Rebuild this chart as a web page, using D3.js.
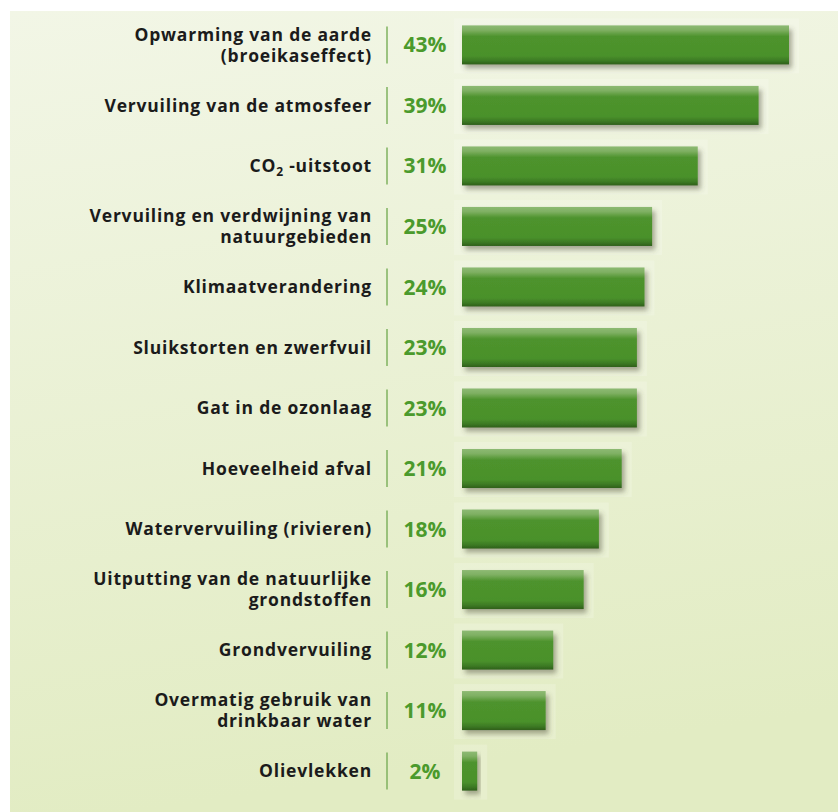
<!DOCTYPE html>
<html>
<head>
<meta charset="utf-8">
<script src="https://cdn.jsdelivr.net/npm/d3@7"></script>
<style>
  body { margin: 0; background: #fff; }
  svg { display: block; }
  .cat { font-family: "Open Sans", sans-serif; font-weight: 700; font-size: 17.5px; letter-spacing: 0.8px; fill: #1b1b1b; }
  .pct { font-family: "Open Sans", sans-serif; font-weight: 700; font-size: 21px; fill: #4b9a2c; }
</style>
</head>
<body>
<div class="chart"></div>
<script>
// labels (line breaks as in the picture) and percentages
const categories = [
  ["Opwarming van de aarde", "(broeikaseffect)"],
  ["Vervuiling van de atmosfeer"],
  ["CO2-uitstoot"],
  ["Vervuiling en verdwijning van", "natuurgebieden"],
  ["Klimaatverandering"],
  ["Sluikstorten en zwerfvuil"],
  ["Gat in de ozonlaag"],
  ["Hoeveelheid afval"],
  ["Watervervuiling (rivieren)"],
  ["Uitputting van de natuurlijke", "grondstoffen"],
  ["Grondvervuiling"],
  ["Overmatig gebruik van", "drinkbaar water"],
  ["Olievlekken"]
];
const values = [43, 39, 31, 25, 24, 23, 23, 21, 18, 16, 12, 11, 2];

const width = 838, height = 812;
const svg = d3.select('div.chart').append('svg')
  .attr('width', width)
  .attr('height', height);

const defs = svg.append('defs');

const bg = defs.append('linearGradient').attr('id', 'bg')
  .attr('x1', 0).attr('y1', 0).attr('x2', 0.15).attr('y2', 1);
bg.append('stop').attr('offset', '0%').attr('stop-color', '#f2f6e6');
bg.append('stop').attr('offset', '100%').attr('stop-color', '#e2ecc3');

const barGrad = defs.append('linearGradient').attr('id', 'bar')
  .attr('x1', 0).attr('y1', 0).attr('x2', 0).attr('y2', 1);
[['0%', '#8dba73'], ['12%', '#7fb063'], ['28%', '#4e932d'], ['78%', '#4a912b'], ['90%', '#3d7b24'], ['100%', '#2e5f1a']]
  .forEach(s => barGrad.append('stop').attr('offset', s[0]).attr('stop-color', s[1]));

const shadow = defs.append('filter').attr('id', 'shadow')
  .attr('x', '-10%').attr('y', '-30%').attr('width', '130%').attr('height', '180%');
shadow.append('feDropShadow')
  .attr('dx', 3).attr('dy', 4).attr('stdDeviation', 2.5)
  .attr('flood-color', '#4a4a30').attr('flood-opacity', 0.45);

svg.append('rect')
  .attr('x', 10).attr('y', 11)
  .attr('width', width - 10).attr('height', height - 11)
  .attr('fill', 'url(#bg)');

const x = d3.scaleLinear().domain([0, 43]).range([0, 327]);
const y = d3.scaleBand()
  .domain(d3.range(values.length))
  .range([14.5, 801.5])
  .paddingInner(0.355)
  .paddingOuter(0.18);

const barX = 462;
const rows = svg.append('g').selectAll('g.row')
  .data(values)
  .enter().append('g')
  .attr('class', 'row')
  .attr('transform', (d, i) => `translate(0,${y(i)})`);

const bh = y.bandwidth();

// faint light box behind each bar
rows.append('rect')
  .attr('x', barX - 8)
  .attr('y', -7)
  .attr('width', d => x(d) + 18)
  .attr('height', bh + 16)
  .attr('fill', '#ffffff')
  .attr('opacity', 0.18);

rows.append('rect')
  .attr('x', barX)
  .attr('y', 0)
  .attr('width', d => x(d))
  .attr('height', bh)
  .attr('fill', 'url(#bar)')
  .attr('filter', 'url(#shadow)');

rows.append('line')
  .attr('x1', 387).attr('x2', 387)
  .attr('y1', 1).attr('y2', bh - 1)
  .attr('stroke', '#7fb25f')
  .attr('stroke-width', 1.5);

rows.append('text')
  .attr('class', 'pct')
  .attr('x', 425)
  .attr('y', bh / 2)
  .attr('dy', '0.36em')
  .attr('text-anchor', 'middle')
  .text(d => d + '%');

rows.each(function (d, i) {
  const lines = categories[i];
  const g = d3.select(this);
  const lh = 21;
  const y0 = bh / 2 - (lines.length - 1) * lh / 2;
  lines.forEach((ln, k) => {
    const t = g.append('text')
      .attr('class', 'cat')
      .attr('x', 372)
      .attr('y', y0 + k * lh)
      .attr('dy', '0.36em')
      .attr('text-anchor', 'end');
    if (ln.startsWith('CO2')) {
      t.append('tspan').text('CO');
      t.append('tspan').attr('font-size', '12px').attr('dy', '4').text('2');
      t.append('tspan').attr('dy', '-4').text(' -uitstoot');
    } else {
      t.text(ln);
    }
  });
});
</script>
</body>
</html>
